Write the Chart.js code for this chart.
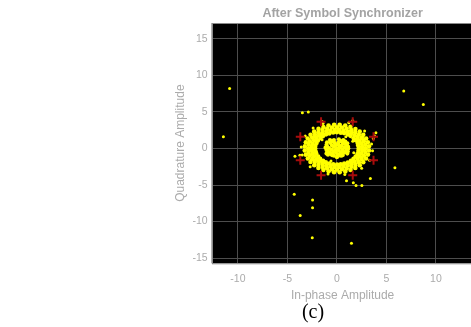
<!DOCTYPE html>
<html><head><meta charset="utf-8">
<script src="https://cdn.jsdelivr.net/npm/chart.js@4.4.1/dist/chart.umd.min.js"></script>
<style>html,body{margin:0;padding:0;background:#fff;overflow:hidden;width:471px;height:327px}canvas{display:block}</style>
</head><body>
<canvas id="c" width="480" height="327" style="width:480px;height:327px"></canvas>
<script>
const chartTitle = 'After Symbol Synchronizer';
const xTitle = 'In-phase Amplitude';
const yTitle = 'Quadrature Amplitude';
const caption = '(c)';
const xTickValues = [-10, -5, 0, 5, 10];
const yTickValues = [-15, -10, -5, 0, 5, 10, 15];

// reference constellation (red +)
const refPoints = [[3.7,1.6],[1.6,3.65],[-1.6,3.65],[-3.7,1.6],[-3.7,-1.6],[-1.6,-3.65],[1.6,-3.65],[3.7,-1.6]];

// dense received ring (row by row)
const ringInner = [[2.2,0],[2.15,0.4],[2.1,0.74],[1.9,1.12],[1.7,1.4],[1.38,1.72],[1.12,1.9],[0.73,2.1],[0.4,2.15],[0,2.22],
[-0.38,2.18],[-0.77,2.05],[-1.1,1.93],[-1.43,1.66],[-1.68,1.43],[-1.92,1.08],[-2.06,0.76],[-2.18,0.37],[-2.2,0.02],
[-2.16,-0.39],[-2.08,-0.73],[-1.89,-1.12],[-1.7,-1.4],[-1.4,-1.7],[-1.12,-1.88],[-0.76,-2.06],[-0.37,-2.17],[0.02,-2.2],
[0.39,-2.16],[0.74,-2.08],[1.1,-1.92],[1.42,-1.68],[1.68,-1.42],[1.9,-1.1],[2.08,-0.75],[2.17,-0.36]];
const ringMid = [[2.54,0.22],[2.47,0.67],[2.3,1.07],[2.1,1.45],[1.8,1.81],[1.45,2.1],[1.08,2.31],[0.66,2.46],[0.22,2.55],
[-0.22,2.54],[-0.67,2.45],[-1.07,2.32],[-1.47,2.08],[-1.8,1.8],[-2.1,1.46],[-2.3,1.09],[-2.46,0.65],[-2.55,0.21],
[-2.53,-0.23],[-2.47,-0.66],[-2.31,-1.08],[-2.09,-1.47],[-1.81,-1.79],[-1.46,-2.1],[-1.07,-2.32],[-0.65,-2.47],[-0.22,-2.54],
[0.23,-2.54],[0.66,-2.46],[1.09,-2.3],[1.46,-2.09],[1.8,-1.81],[2.1,-1.45],[2.31,-1.07],[2.46,-0.67],[2.55,-0.21]];
const ringMid2 = [[2.9,0.02],[2.86,0.5],[2.72,1.0],[2.52,1.44],[2.22,1.87],[1.85,2.23],[1.45,2.5],[0.98,2.73],[0.5,2.87],[0.01,2.9],
[-0.5,2.86],[-0.99,2.72],[-1.45,2.52],[-1.87,2.21],[-2.22,1.86],[-2.5,1.46],[-2.73,0.98],[-2.85,0.51],[-2.9,-0.01],
[-2.86,-0.5],[-2.73,-0.99],[-2.5,-1.46],[-2.23,-1.85],[-1.86,-2.22],[-1.44,-2.52],[-1.0,-2.72],[-0.5,-2.86],[0,-2.9],
[0.51,-2.85],[0.99,-2.73],[1.46,-2.5],[1.86,-2.22],[2.22,-1.87],[2.51,-1.45],[2.73,-0.99],[2.86,-0.5]];
const ringOuter = [[3.24,0.29],[3.13,0.84],[2.95,1.37],[2.66,1.86],[2.3,2.31],[1.87,2.66],[1.37,2.95],[0.84,3.14],[0.28,3.25],
[-0.28,3.24],[-0.85,3.13],[-1.37,2.94],[-1.86,2.67],[-2.3,2.3],[-2.66,1.87],[-2.95,1.36],[-3.14,0.84],[-3.24,0.28],
[-3.25,-0.29],[-3.13,-0.85],[-2.94,-1.38],[-2.67,-1.86],[-2.29,-2.3],[-1.87,-2.66],[-1.37,-2.95],[-0.84,-3.13],[-0.29,-3.24],
[0.28,-3.25],[0.85,-3.14],[1.38,-2.94],[1.86,-2.66],[2.31,-2.3],[2.66,-1.87],[2.94,-1.37],[3.14,-0.84],[3.24,-0.28]];
const ringEdge = [[3.5,0.6],[-3.5,-0.9],[3.3,-1.6],[-3.2,1.7],[1.2,3.5],[-1.4,3.4],[0.8,-3.55],[-0.9,-3.5],[2.8,2.4],[-2.7,-2.5],
[3.6,-0.3],[-3.6,0.2],[2.5,-2.7],[-2.4,2.8],[-1.5,3.7],[1.6,3.8],[3.8,1.7]];
// inner cluster and points in the gap
const corePoints = [[0,0],[0.3,0.1],[-0.3,0.2],[0.2,-0.3],[-0.2,-0.25],[0.5,0.35],[-0.5,0.4],[0.55,-0.2],[-0.55,-0.15],[0.1,0.55],
[-0.1,-0.55],[0.35,-0.6],[-0.4,-0.55],[0.75,0.1],[-0.8,0.05],[0.15,0.8],[-0.25,0.75],[0.6,0.7],[-0.65,0.75],[0.8,-0.5],
[-0.75,-0.5],[0.05,-0.85],[1.0,0.35],[-1.0,0.3],[0.95,-0.2],[-1.05,-0.2],[0.4,1.0],[-0.45,1.0],[0.45,-1.0],[-0.3,-1.0],
[1.05,0.7],[-1.0,0.85],[1.05,-0.7],[-1.05,-0.7],[0.65,1.15],[-0.7,1.15],[0.2,1.25],[0.0,-1.2],[1.15,0.0],[-1.15,0.1],
[0.9,0.55],[-0.9,-0.85],[0.6,-0.9],[0.25,0.35],[-0.15,0.45],[-0.6,-0.75],[0.85,0.95],[-0.95,-0.4],[1.1,-0.4],[-0.3,1.15],
[0.6,-0.5],[-0.5,-0.9],[0.3,-0.95],[-1.05,0.5],[1.12,0.25]];
const gapPoints = [[1.6,1.0],[-1.5,1.2],[1.7,-0.6],[-0.6,-1.7],[0.9,1.6]];
// isolated outliers
const outlierPoints = [[-10.84,8.2],[6.75,7.84],[8.73,6.0],[-3.49,4.87],[-2.89,4.97],[-11.47,1.59],[3.94,2.13],[5.86,-2.65],
[-4.31,-6.25],[-2.46,-7.03],[-2.46,-8.12],[-3.71,-9.17],[-2.49,-12.2],[1.47,-12.95],[0.97,-4.43],[1.66,-4.7],[1.93,-5.06],
[2.52,-5.06],[3.38,-4.1],[-4.24,-1.05],[-3.74,-0.92],[3.68,1.37]];

const toXY = arr => arr.map(p => ({x: p[0], y: p[1]}));
const FONT = '"Liberation Sans", Arial, sans-serif';
const TXT = '#ababab';

const bgPlugin = {
  id: 'bg',
  beforeDraw(chart) {
    const {ctx, chartArea: a} = chart;
    ctx.save();
    ctx.fillStyle = '#ffffff';
    ctx.fillRect(0, 0, chart.width, chart.height);
    ctx.fillStyle = '#000000';
    ctx.fillRect(a.left, a.top, a.right - a.left, a.bottom - a.top);
    ctx.restore();
  },
  afterDraw(chart) {
    const {ctx, chartArea: a} = chart;
    ctx.save();
    ctx.strokeStyle = '#8a8a8a';
    ctx.lineWidth = 1;
    ctx.strokeRect(Math.round(a.left) + 0.5, Math.round(a.top) + 0.5, a.right - a.left, a.bottom - a.top);
    ctx.fillStyle = '#000';
    ctx.font = '20px "Liberation Serif", "Times New Roman", serif';
    ctx.textAlign = 'center';
    ctx.textBaseline = 'middle';
    ctx.fillText(caption, 313, 313);
    ctx.restore();
  }
};

new Chart(document.getElementById('c'), {
  type: 'scatter',
  data: {
    datasets: [
      {data: toXY(refPoints), pointStyle: 'cross', pointRadius: 4.5, borderColor: '#a80c0c', borderWidth: 2, backgroundColor: '#a80c0c'},
      {data: toXY(outlierPoints.concat(gapPoints, ringEdge)), pointRadius: 1.5, borderWidth: 0, backgroundColor: '#ffff00'},
      {data: toXY(corePoints), pointRadius: 2.1, borderWidth: 0, backgroundColor: '#ffff00'},
      {data: toXY(ringInner.concat(ringMid, ringMid2, ringOuter)), pointRadius: 2.3, borderWidth: 0, backgroundColor: '#ffff00'}
    ]
  },
  options: {
    responsive: false,
    animation: false,
    devicePixelRatio: 1,
    layout: {padding: 0},
    plugins: {
      legend: {display: false},
      tooltip: {enabled: false},
      title: {display: true, text: chartTitle, fullSize: false, color: '#a3a3a3',
        font: {family: FONT, size: 12.5, weight: 'bold'}, padding: {top: 6, bottom: 2}}
    },
    scales: {
      x: {
        type: 'linear', min: -12.65, max: 13.8,
        afterBuildTicks: s => { s.ticks = xTickValues.map(v => ({value: v})); },
        afterFit: s => { s.height = 63.7; },
        ticks: {color: TXT, font: {family: FONT, size: 10.5}, padding: 10},
        grid: {color: '#4d4d4d', drawTicks: false},
        border: {display: false},
        title: {display: true, text: xTitle, color: TXT, font: {family: FONT, size: 12}, padding: {top: 0, bottom: 24}}
      },
      y: {
        type: 'linear', min: -15.7, max: 17.15,
        afterBuildTicks: s => { s.ticks = yTickValues.map(v => ({value: v})); },
        afterFit: s => { s.width = 211.7; },
        ticks: {color: TXT, font: {family: FONT, size: 10.5}, padding: 4},
        grid: {color: '#4d4d4d', drawTicks: false},
        border: {display: false},
        title: {display: true, text: yTitle, color: TXT, font: {family: FONT, size: 12}, padding: {top: 173.5, bottom: 0}}
      }
    }
  },
  plugins: [bgPlugin]
});
</script>
</body></html>
